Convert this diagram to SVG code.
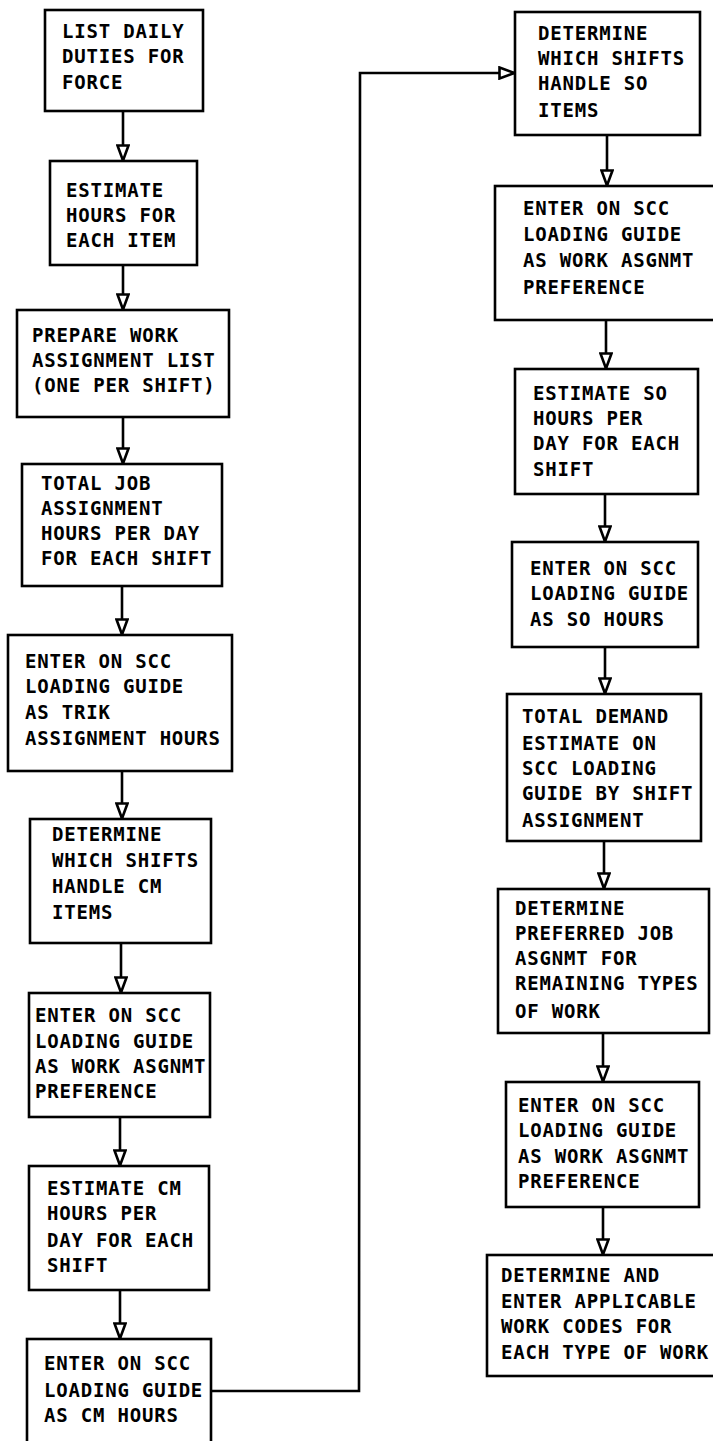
<svg xmlns="http://www.w3.org/2000/svg" width="713" height="1441" viewBox="0 0 713 1441">
<style>
.b{fill:#fff;stroke:#000;stroke-width:2.6}
.t{font-family:"DejaVu Sans Mono","Liberation Mono",monospace;font-weight:bold;font-size:19px;letter-spacing:0.8px;fill:#000}
.c{fill:none;stroke:#000;stroke-width:2.6}
</style>
<defs>
<marker id="ah" markerUnits="userSpaceOnUse" viewBox="0 0 18 14" refX="17" refY="7" markerWidth="18" markerHeight="14" orient="auto">
<path d="M1.5,1.5 L16.5,7 L1.5,12.5 Z" fill="#fff" stroke="#000" stroke-width="2.6" stroke-linejoin="miter"/>
</marker>
</defs>
<rect width="713" height="1441" fill="#fff"/>
<g id="connectors">
<line class="c" x1="123" y1="111" x2="123" y2="161" marker-end="url(#ah)"/>
<line class="c" x1="123" y1="265" x2="123" y2="310" marker-end="url(#ah)"/>
<line class="c" x1="123" y1="417" x2="123" y2="464" marker-end="url(#ah)"/>
<line class="c" x1="122" y1="586" x2="122" y2="635" marker-end="url(#ah)"/>
<line class="c" x1="122" y1="771" x2="122" y2="819" marker-end="url(#ah)"/>
<line class="c" x1="121" y1="943" x2="121" y2="993" marker-end="url(#ah)"/>
<line class="c" x1="120" y1="1117" x2="120" y2="1166" marker-end="url(#ah)"/>
<line class="c" x1="120" y1="1290" x2="120" y2="1339" marker-end="url(#ah)"/>
<polyline class="c" points="211,1391 359,1391 360,73 515,73" marker-end="url(#ah)"/>
<line class="c" x1="607" y1="135" x2="607" y2="186" marker-end="url(#ah)"/>
<line class="c" x1="606" y1="320" x2="606" y2="369" marker-end="url(#ah)"/>
<line class="c" x1="605" y1="494" x2="605" y2="542" marker-end="url(#ah)"/>
<line class="c" x1="605" y1="647" x2="605" y2="694" marker-end="url(#ah)"/>
<line class="c" x1="604" y1="841" x2="604" y2="889" marker-end="url(#ah)"/>
<line class="c" x1="603" y1="1033" x2="603" y2="1082" marker-end="url(#ah)"/>
<line class="c" x1="603" y1="1207" x2="603" y2="1255" marker-end="url(#ah)"/>
</g>
<g id="n1"><rect class="b" x="45" y="10" width="158" height="101"/>
<text class="t" x="62" y="38">LIST DAILY</text><text class="t" x="62" y="63">DUTIES FOR</text><text class="t" x="62" y="89">FORCE</text></g>
<g id="n2"><rect class="b" x="50" y="161" width="147" height="104"/>
<text class="t" x="66" y="197">ESTIMATE</text><text class="t" x="66" y="222">HOURS FOR</text><text class="t" x="66" y="247">EACH ITEM</text></g>
<g id="n3"><rect class="b" x="17" y="310" width="212" height="107"/>
<text class="t" x="32" y="342">PREPARE WORK</text><text class="t" x="32" y="367">ASSIGNMENT LIST</text><text class="t" x="32" y="392">(ONE PER SHIFT)</text></g>
<g id="n4"><rect class="b" x="22" y="464" width="200" height="122"/>
<text class="t" x="41" y="490">TOTAL JOB</text><text class="t" x="41" y="515">ASSIGNMENT</text><text class="t" x="41" y="540">HOURS PER DAY</text><text class="t" x="41" y="565">FOR EACH SHIFT</text></g>
<g id="n5"><rect class="b" x="8" y="635" width="224" height="136"/>
<text class="t" x="25" y="668">ENTER ON SCC</text><text class="t" x="25" y="693">LOADING GUIDE</text><text class="t" x="25" y="719">AS TRIK</text><text class="t" x="25" y="745">ASSIGNMENT HOURS</text></g>
<g id="n6"><rect class="b" x="30" y="819" width="181" height="124"/>
<text class="t" x="52" y="841">DETERMINE</text><text class="t" x="52" y="867">WHICH SHIFTS</text><text class="t" x="52" y="893">HANDLE CM</text><text class="t" x="52" y="919">ITEMS</text></g>
<g id="n7"><rect class="b" x="29" y="993" width="181" height="124"/>
<text class="t" x="35" y="1022">ENTER ON SCC</text><text class="t" x="35" y="1048">LOADING GUIDE</text><text class="t" x="35" y="1073">AS WORK ASGNMT</text><text class="t" x="35" y="1098">PREFERENCE</text></g>
<g id="n8"><rect class="b" x="29" y="1166" width="180" height="124"/>
<text class="t" x="47" y="1195">ESTIMATE CM</text><text class="t" x="47" y="1220">HOURS PER</text><text class="t" x="47" y="1247">DAY FOR EACH</text><text class="t" x="47" y="1272">SHIFT</text></g>
<g id="n9"><rect class="b" x="27" y="1339" width="184" height="120"/>
<text class="t" x="44" y="1370">ENTER ON SCC</text><text class="t" x="44" y="1397">LOADING GUIDE</text><text class="t" x="44" y="1422">AS CM HOURS</text></g>
<g id="r1"><rect class="b" x="515" y="12" width="185" height="123"/>
<text class="t" x="538" y="40">DETERMINE</text><text class="t" x="538" y="65">WHICH SHIFTS</text><text class="t" x="538" y="90">HANDLE SO</text><text class="t" x="538" y="117">ITEMS</text></g>
<g id="r2"><rect class="b" x="495" y="186" width="230" height="134"/>
<text class="t" x="523" y="215">ENTER ON SCC</text><text class="t" x="523" y="241">LOADING GUIDE</text><text class="t" x="523" y="267">AS WORK ASGNMT</text><text class="t" x="523" y="294">PREFERENCE</text></g>
<g id="r3"><rect class="b" x="515" y="369" width="183" height="125"/>
<text class="t" x="533" y="400">ESTIMATE SO</text><text class="t" x="533" y="425">HOURS PER</text><text class="t" x="533" y="450">DAY FOR EACH</text><text class="t" x="533" y="476">SHIFT</text></g>
<g id="r4"><rect class="b" x="512" y="542" width="186" height="105"/>
<text class="t" x="530" y="575">ENTER ON SCC</text><text class="t" x="530" y="600">LOADING GUIDE</text><text class="t" x="530" y="626">AS SO HOURS</text></g>
<g id="r5"><rect class="b" x="507" y="694" width="194" height="147"/>
<text class="t" x="522" y="723">TOTAL DEMAND</text><text class="t" x="522" y="750">ESTIMATE ON</text><text class="t" x="522" y="775">SCC LOADING</text><text class="t" x="522" y="800">GUIDE BY SHIFT</text><text class="t" x="522" y="827">ASSIGNMENT</text></g>
<g id="r6"><rect class="b" x="498" y="889" width="211" height="144"/>
<text class="t" x="515" y="915">DETERMINE</text><text class="t" x="515" y="940">PREFERRED JOB</text><text class="t" x="515" y="965">ASGNMT FOR</text><text class="t" x="515" y="990">REMAINING TYPES</text><text class="t" x="515" y="1018">OF WORK</text></g>
<g id="r7"><rect class="b" x="506" y="1082" width="193" height="125"/>
<text class="t" x="518" y="1112">ENTER ON SCC</text><text class="t" x="518" y="1137">LOADING GUIDE</text><text class="t" x="518" y="1163">AS WORK ASGNMT</text><text class="t" x="518" y="1188">PREFERENCE</text></g>
<g id="r8"><rect class="b" x="487" y="1255" width="240" height="121"/>
<text class="t" x="501" y="1282">DETERMINE AND</text><text class="t" x="501" y="1308">ENTER APPLICABLE</text><text class="t" x="501" y="1333">WORK CODES FOR</text><text class="t" x="501" y="1359">EACH TYPE OF WORK</text></g>
</svg>
